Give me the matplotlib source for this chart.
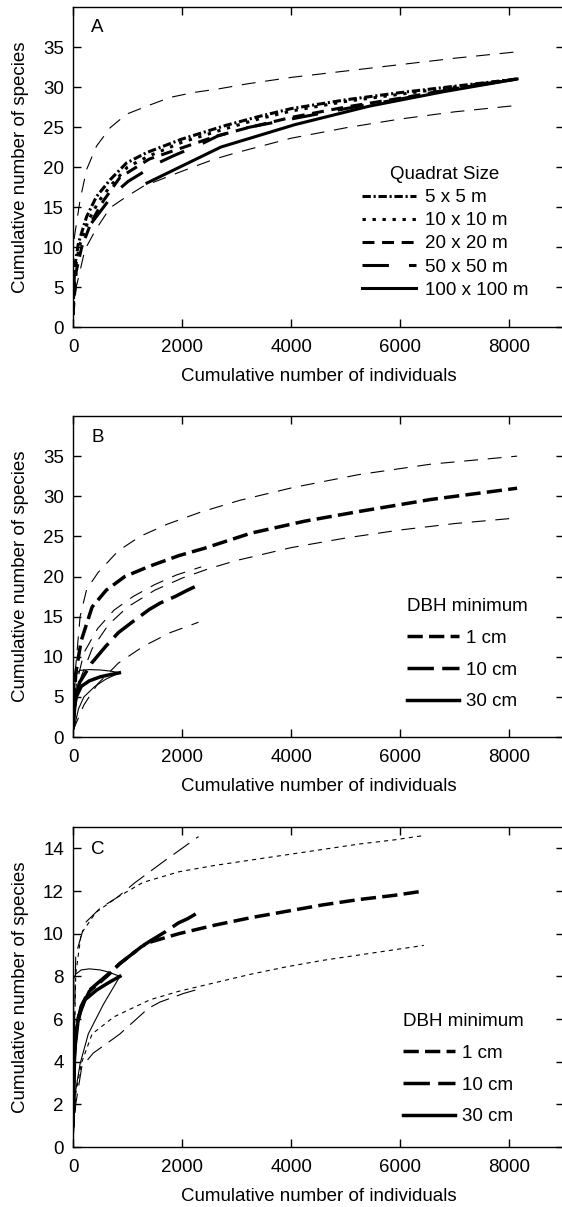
import matplotlib
matplotlib.use('Agg')
import matplotlib.pyplot as plt

plt.rcParams['font.family'] = ['Liberation Sans', 'DejaVu Sans']
plt.rcParams['font.size'] = 13.5
plt.rcParams['lines.scale_dashes'] = False
plt.rcParams['axes.linewidth'] = 1.0

# ---------------- Panel A : quadrat size ----------------
a_q5_x = [0, 30, 100, 250, 430, 680, 980, 1350, 2000, 2800, 3400, 4000, 5000, 6000, 7000, 8140]
a_q5_y = [1.5, 7.5, 10.5, 13.8, 16.3, 18.4, 20.5, 21.8, 23.5, 25.2, 26.3, 27.3, 28.4, 29.3, 30.1, 31.0]
a_q10_x = [0, 40, 120, 280, 480, 720, 1000, 1400, 2000, 2800, 3400, 4000, 5000, 6000, 7000, 8140]
a_q10_y = [1.5, 7.3, 10.2, 13.3, 15.8, 17.9, 20.0, 21.4, 23.1, 24.8, 26.0, 27.0, 28.2, 29.1, 30.0, 31.0]
a_q20_x = [0, 60, 160, 340, 560, 860, 1400, 2000, 2600, 3200, 4000, 5000, 6000, 7000, 8140]
a_q20_y = [1.5, 7.0, 10.0, 13.2, 15.8, 18.7, 21.0, 22.4, 23.8, 24.9, 26.2, 27.5, 28.6, 29.8, 31.0]
a_q50_x = [340, 740, 1010, 1560, 1840, 2390, 2660, 3180, 4000, 5000, 6000, 7000, 8140]
a_q50_y = [13.0, 16.6, 18.2, 20.5, 21.4, 23.0, 23.9, 24.9, 26.0, 27.3, 28.5, 29.8, 31.0]
a_q100_x = [1357, 2713, 4070, 5427, 6783, 8140]
a_q100_y = [18.0, 22.5, 25.3, 27.6, 29.4, 31.0]
a_up_x = [20, 130, 250, 430, 680, 980, 1350, 1780, 2200, 2700, 3200, 4000, 5000, 6000, 7000, 8140]
a_up_y = [11.0, 15.9, 19.7, 22.6, 24.9, 26.6, 27.6, 28.7, 29.3, 29.8, 30.4, 31.2, 32.0, 32.8, 33.6, 34.4]
a_lo_x = [0, 60, 220, 420, 680, 980, 1290, 1780, 2200, 2600, 3000, 4000, 5000, 6000, 7000, 8140]
a_lo_y = [1.5, 5.0, 9.7, 12.2, 14.9, 16.3, 17.6, 18.9, 20.0, 21.0, 21.8, 23.6, 24.9, 26.0, 26.9, 27.7]
a_labels = ['5 x 5 m', '10 x 10 m', '20 x 20 m', '50 x 50 m', '100 x 100 m']

# ---------------- Panel B : DBH minimum ----------------
b_d1_x = [0, 50, 150, 350, 610, 950, 1410, 1940, 2400, 3260, 4250, 5240, 6560, 8140]
b_d1_y = [1.5, 7.9, 12.0, 16.2, 18.3, 20.0, 21.3, 22.6, 23.5, 25.4, 26.9, 28.1, 29.6, 31.0]
b_d1_up_x = [0, 40, 130, 250, 460, 830, 1230, 1720, 2330, 3060, 4040, 5240, 6560, 8140]
b_d1_up_y = [2.0, 8.0, 15.0, 18.4, 20.5, 23.2, 25.0, 26.5, 28.0, 29.5, 31.1, 32.7, 34.0, 35.0]
b_d1_lo_x = [0, 50, 150, 350, 650, 1000, 1500, 2000, 2500, 3000, 4000, 5000, 6000, 7000, 8140]
b_d1_lo_y = [1.0, 4.0, 7.5, 11.0, 14.0, 16.2, 18.3, 19.8, 21.0, 22.0, 23.6, 24.8, 25.8, 26.6, 27.3]
b_d10_x = [0, 40, 120, 340, 600, 830, 1100, 1400, 1600, 1870, 2100, 2350]
b_d10_y = [1.0, 4.5, 6.8, 9.2, 11.3, 13.0, 14.4, 15.9, 16.7, 17.5, 18.3, 19.1]
b_d10_up_x = [0, 60, 200, 450, 750, 1100, 1500, 1900, 2350]
b_d10_up_y = [2.0, 6.5, 10.5, 13.5, 15.8, 17.5, 19.0, 20.2, 21.2]
b_d10_lo_x = [0, 200, 450, 830, 1290, 1780, 2300]
b_d10_lo_y = [0.8, 4.0, 6.6, 9.2, 11.3, 13.0, 14.3]
b_d30_x = [0, 20, 60, 150, 300, 500, 700, 850]
b_d30_y = [1.5, 3.5, 5.0, 6.3, 7.0, 7.5, 7.8, 8.0]
b_d30_up_x = [0, 20, 60, 120, 300, 500, 700, 850]
b_d30_up_y = [2.0, 6.0, 7.8, 8.3, 8.4, 8.35, 8.2, 8.0]
b_d30_lo_x = [0, 100, 200, 400, 600, 850]
b_d30_lo_y = [0.5, 3.5, 5.0, 6.3, 7.2, 8.0]

# ---------------- Panel C : DBH minimum ----------------
c_d1_x = [0, 20, 60, 150, 300, 620, 860, 1260, 1410, 1940, 2600, 3260, 3920, 4580, 5240, 5900, 6430]
c_d1_y = [1.0, 4.0, 5.5, 6.5, 7.3, 8.0, 8.6, 9.4, 9.6, 10.0, 10.4, 10.75, 11.05, 11.35, 11.6, 11.8, 12.0]
c_d1_up_x = [0, 50, 150, 420, 810, 1280, 1940, 2600, 3260, 3920, 4580, 5240, 5900, 6430]
c_d1_up_y = [1.5, 8.1, 10.0, 11.0, 11.7, 12.4, 12.9, 13.2, 13.45, 13.7, 13.95, 14.2, 14.4, 14.6]
c_d1_lo_x = [0, 50, 150, 350, 750, 1410, 1940, 2600, 3260, 3920, 4580, 5240, 5900, 6430]
c_d1_lo_y = [0.5, 2.5, 3.9, 5.3, 6.1, 6.9, 7.3, 7.7, 8.1, 8.45, 8.75, 9.0, 9.25, 9.45]
c_d10_x = [0, 20, 60, 150, 300, 620, 860, 1260, 1410, 1700, 1930, 2100, 2300]
c_d10_y = [1.0, 4.2, 5.6, 6.6, 7.35, 8.05, 8.6, 9.4, 9.65, 10.1, 10.5, 10.7, 11.0]
c_d10_up_x = [0, 50, 220, 500, 810, 1140, 1670, 2300]
c_d10_up_y = [1.5, 9.0, 10.5, 11.2, 11.7, 12.4, 13.4, 14.55]
c_d10_lo_x = [0, 50, 160, 370, 590, 860, 1380, 1600, 2030, 2300]
c_d10_lo_y = [0.3, 2.0, 3.75, 4.4, 4.8, 5.3, 6.5, 6.8, 7.2, 7.4]
c_d30_x = [0, 30, 100, 220, 430, 650, 860]
c_d30_y = [1.0, 4.5, 6.1, 6.9, 7.35, 7.7, 8.0]
c_d30_up_x = [0, 15, 50, 150, 300, 500, 650, 860]
c_d30_up_y = [1.0, 7.9, 8.1, 8.3, 8.35, 8.3, 8.2, 8.0]
c_d30_lo_x = [0, 40, 130, 280, 560, 860]
c_d30_lo_y = [0.5, 2.5, 3.9, 5.3, 6.7, 8.0]
dbh_labels = ['1 cm', '10 cm', '30 cm']

x_ticks = [0, 2000, 4000, 6000, 8000]

# line styles (dash lengths in points)
thickA = 2.2
thick = 2.5
thin = 0.8
ci_dash = (0, (10, 7))
ls_q5 = (0, (6, 2, 1.5, 2))
ls_q10 = (0, (2.4, 4.8))
ls_q20 = (0, (8.6, 5.5))
ls_q50 = (0, (19, 14.5))
ls_d1 = (0, (11, 4.5))
ls_d10 = (0, (19, 6))
ci_short = (0, (3, 3))
ci_long = (0, (14, 6))

fig = plt.figure(figsize=(5.62, 12.07), dpi=100)
axA = fig.add_axes([0.1299, 0.72908, 0.8737, 0.26512])
axB = fig.add_axes([0.1299, 0.38939, 0.8737, 0.26595])
axC = fig.add_axes([0.1299, 0.04971, 0.8737, 0.26512])


def style_axes(ax, ylim, yticks, letter, ytop):
    ax.set_xlim(0, 9000)
    ax.set_ylim(*ylim)
    ax.set_xticks(x_ticks)
    ax.set_yticks(yticks)
    ax.tick_params(direction='in', top=True, right=True, length=5.5, width=1.0,
                   labelsize=13.5)
    ax.tick_params(axis='x', pad=8.5)
    ax.tick_params(axis='y', pad=6.5)
    ax.spines['right'].set_visible(False)
    ax.set_xlabel('Cumulative number of individuals', labelpad=9)
    ax.set_ylabel('Cumulative number of species', labelpad=10)
    ax.text(0.037, ytop, letter, transform=ax.transAxes, ha='left', va='top',
            fontsize=13.5)


# ---- A ----
axA.plot(a_up_x, a_up_y, color='black', lw=thin, linestyle=ci_dash)
axA.plot(a_lo_x, a_lo_y, color='black', lw=thin, linestyle=ci_dash)
hA = []
hA += axA.plot(a_q5_x, a_q5_y, color='black', lw=thickA, linestyle=ls_q5)
hA += axA.plot(a_q10_x, a_q10_y, color='black', lw=thickA, linestyle=ls_q10)
hA += axA.plot(a_q20_x, a_q20_y, color='black', lw=thickA, linestyle=ls_q20)
hA += axA.plot(a_q50_x, a_q50_y, color='black', lw=thickA, linestyle=ls_q50)
hA += axA.plot(a_q100_x, a_q100_y, color='black', lw=thickA, linestyle='-')
style_axes(axA, (0, 40), range(0, 36, 5), 'A', 0.964)
axA.legend(hA, a_labels, title='Quadrat Size', loc='upper left',
           bbox_to_anchor=(0.588, 0.503), frameon=False, borderpad=0,
           borderaxespad=0, handlelength=2.9, handletextpad=0.45,
           labelspacing=0.32, fontsize=13.5, title_fontsize=13.5)

# ---- B ----
for xs, ys in [(b_d1_up_x, b_d1_up_y), (b_d1_lo_x, b_d1_lo_y),
               (b_d10_up_x, b_d10_up_y), (b_d10_lo_x, b_d10_lo_y)]:
    axB.plot(xs, ys, color='black', lw=thin, linestyle=ci_dash)
axB.plot(b_d30_up_x, b_d30_up_y, color='black', lw=thin)
axB.plot(b_d30_lo_x, b_d30_lo_y, color='black', lw=thin)
hB = []
hB += axB.plot(b_d1_x, b_d1_y, color='black', lw=thick, linestyle=ls_d1)
hB += axB.plot(b_d10_x, b_d10_y, color='black', lw=thick, linestyle=ls_d10)
hB += axB.plot(b_d30_x, b_d30_y, color='black', lw=thick, linestyle='-')
style_axes(axB, (0, 40), range(0, 36, 5), 'B', 0.961)
axB.legend(hB, dbh_labels, title='DBH minimum', loc='upper left',
           bbox_to_anchor=(0.680, 0.4315), frameon=False, borderpad=0,
           borderaxespad=0, handlelength=2.8, handletextpad=0.37,
           labelspacing=0.77, fontsize=13.5, title_fontsize=13.5,
           alignment='left')

# ---- C ----
axC.plot(c_d1_up_x, c_d1_up_y, color='black', lw=thin, linestyle=ci_short)
axC.plot(c_d1_lo_x, c_d1_lo_y, color='black', lw=thin, linestyle=ci_short)
axC.plot(c_d10_up_x, c_d10_up_y, color='black', lw=thin, linestyle=ci_long)
axC.plot(c_d10_lo_x, c_d10_lo_y, color='black', lw=thin, linestyle=ci_long)
axC.plot(c_d30_up_x, c_d30_up_y, color='black', lw=thin)
axC.plot(c_d30_lo_x, c_d30_lo_y, color='black', lw=thin)
hC = []
hC += axC.plot(c_d1_x, c_d1_y, color='black', lw=thick, linestyle=ls_d1)
hC += axC.plot(c_d10_x, c_d10_y, color='black', lw=thick, linestyle=ls_d10)
hC += axC.plot(c_d30_x, c_d30_y, color='black', lw=thick, linestyle='-')
style_axes(axC, (0, 15), range(0, 15, 2), 'C', 0.955)
axC.legend(hC, dbh_labels, title='DBH minimum', loc='upper left',
           bbox_to_anchor=(0.6715, 0.4175), frameon=False, borderpad=0,
           borderaxespad=0, handlelength=2.8, handletextpad=0.37,
           labelspacing=0.77, fontsize=13.5, title_fontsize=13.5,
           alignment='left')

fig.savefig('out.png', dpi=100)
